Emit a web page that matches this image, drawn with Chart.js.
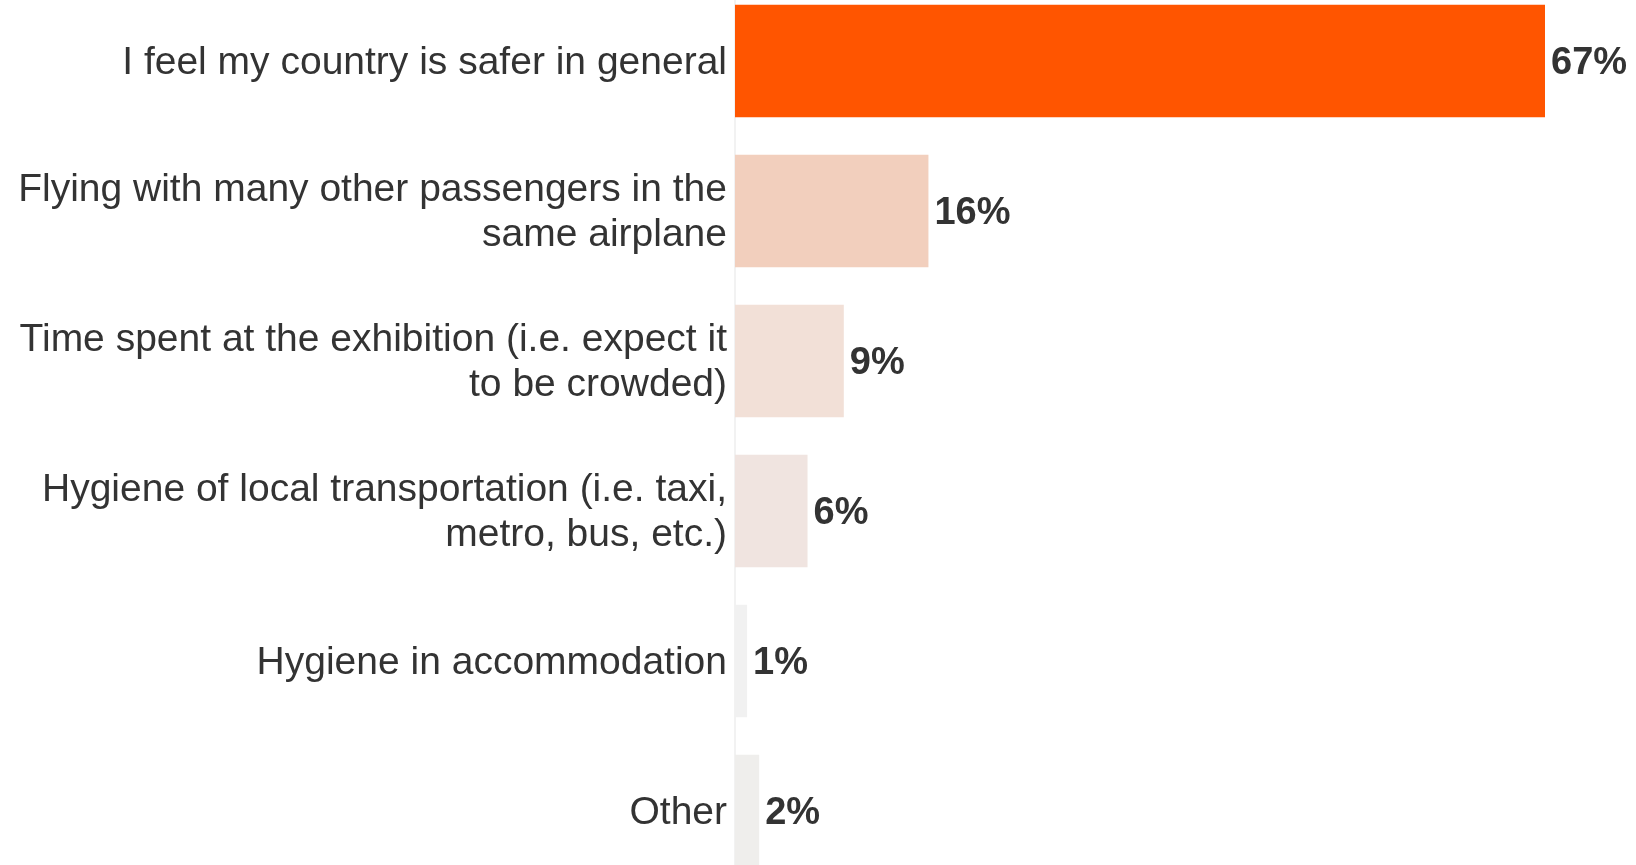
<!DOCTYPE html>
<html>
<head>
<meta charset="utf-8">
<script src="https://cdn.jsdelivr.net/npm/chart.js@4.4.1/dist/chart.umd.min.js"></script>
<style>
  html, body { margin: 0; padding: 0; background: #fff; overflow: hidden; }
  #wrap { position: absolute; left: 0; top: -14px; width: 1636px; height: 900px; }
</style>
</head>
<body>
<div id="wrap"><canvas id="grafico"></canvas></div>
<script>
const categorias = [
    "I feel my country is safer in general",
    ["Flying with many other passengers in the", "same airplane"],
    ["Time spent at the exhibition (i.e. expect it", "to be crowded)"],
    ["Hygiene of local transportation (i.e. taxi,", "metro, bus, etc.)"],
    "Hygiene in accommodation",
    "Other"
];
const valores = [67, 16, 9, 6, 1, 2];
const colores = ["#FF5500", "#F2CFBD", "#F2E0D7", "#F0E4E0", "#F1F1F1", "#EFEEEC"];

const fuente = "'Liberation Sans', Arial, sans-serif";

// dibuja el porcentaje al final de cada barra
const etiquetas = {
    id: "etiquetas",
    afterDatasetsDraw(chart) {
        const ctx = chart.ctx;
        const meta = chart.getDatasetMeta(0);
        ctx.save();
        ctx.font = "bold 38px " + fuente;
        ctx.fillStyle = "#333333";
        ctx.textAlign = "left";
        ctx.textBaseline = "middle";
        meta.data.forEach((bar, i) => {
            ctx.fillText(valores[i] + "%", bar.x + 6, bar.y + 3);
        });
        ctx.restore();
    }
};

const canvas = document.getElementById("grafico");
new Chart(canvas, {
    type: "bar",
    data: {
        labels: categorias,
        datasets: [{
            data: valores,
            backgroundColor: colores,
            categoryPercentage: 0.75,
            barPercentage: 1
        }]
    },
    options: {
        indexAxis: "y",
        responsive: true,
        maintainAspectRatio: false,
        animation: false,
        layout: { padding: { left: 0, right: 91, top: 0, bottom: 0 } },
        plugins: { legend: { display: false }, tooltip: { enabled: false } },
        scales: {
            x: { display: false, min: 0, max: 67 },
            y: {
                afterFit(scale) {
                    scale.width = 735;
                    scale.paddingTop = 0;
                    scale.paddingBottom = 0;
                },
                grid: { display: false, drawTicks: false },
                border: { display: true, color: "#F2F2F2", width: 2 },
                ticks: {
                    color: "#333333",
                    padding: 8,
                    labelOffset: 2,
                    font: { family: fuente, size: 39, lineHeight: 1.16 }
                }
            }
        }
    },
    plugins: [etiquetas]
});
</script>
</body>
</html>
